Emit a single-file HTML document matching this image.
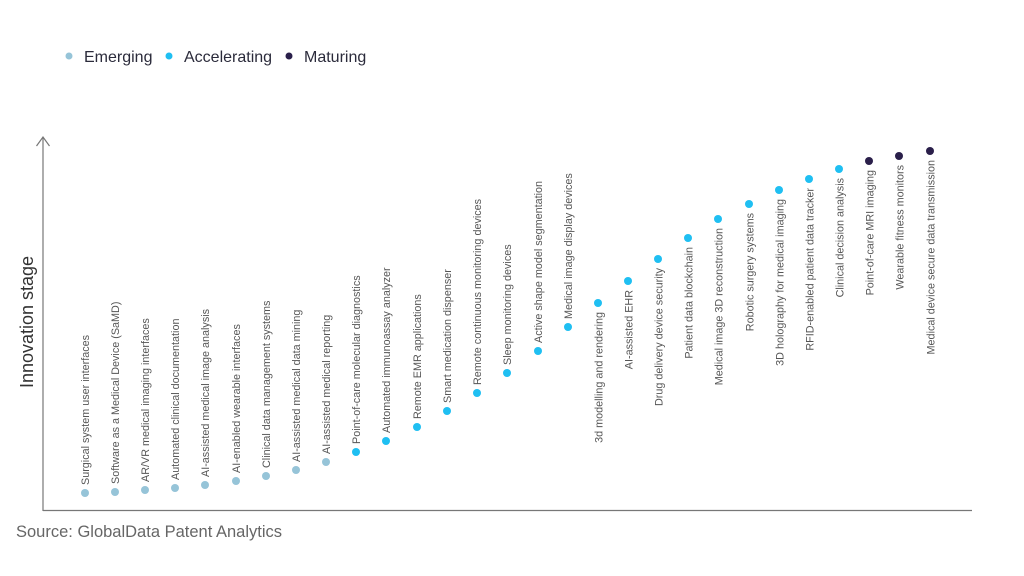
<!DOCTYPE html>
<html><head><meta charset="utf-8"><style>
html,body{margin:0;padding:0;background:#fff;}
svg{display:block;font-family:"Liberation Sans",sans-serif;}
.l{font-size:10.8px;fill:#555;}
</style></head><body>
<svg width="1024" height="576" viewBox="0 0 1024 576">
<!-- legend -->
<circle cx="69" cy="56" r="3.5" fill="#96c4d8"/>
<text x="84" y="62" font-size="16" fill="#2b2b3b">Emerging</text>
<circle cx="169" cy="56" r="3.5" fill="#1fbff2"/>
<text x="184" y="62" font-size="16" fill="#2b2b3b">Accelerating</text>
<circle cx="289" cy="56" r="3.5" fill="#2a1f4a"/>
<text x="304" y="62" font-size="16" fill="#2b2b3b">Maturing</text>
<!-- axes -->
<line x1="43" y1="137" x2="43" y2="511" stroke="#777" stroke-width="1.2"/>
<polyline points="36.5,146 43,137 49.5,146" fill="none" stroke="#777" stroke-width="1.2"/>
<line x1="43" y1="510.5" x2="972" y2="510.5" stroke="#777" stroke-width="1.2"/>
<text transform="translate(33,322) rotate(-90)" text-anchor="middle" font-size="18" fill="#333">Innovation stage</text>
<text x="16" y="537" font-size="16.5" fill="#666">Source: GlobalData Patent Analytics</text>
<!-- points -->
<g fill="#96c4d8">
<circle cx="85" cy="493" r="4"/><circle cx="115" cy="492" r="4"/><circle cx="145" cy="490" r="4"/>
<circle cx="175" cy="488" r="4"/><circle cx="205" cy="485" r="4"/><circle cx="236" cy="481" r="4"/>
<circle cx="266" cy="476" r="4"/><circle cx="296" cy="470" r="4"/><circle cx="326" cy="462" r="4"/>
</g>
<g fill="#1fbff2">
<circle cx="356" cy="452" r="4"/><circle cx="386" cy="441" r="4"/><circle cx="417" cy="427" r="4"/>
<circle cx="447" cy="411" r="4"/><circle cx="477" cy="393" r="4"/><circle cx="507" cy="373" r="4"/>
<circle cx="538" cy="351" r="4"/><circle cx="568" cy="327" r="4"/><circle cx="598" cy="303" r="4"/>
<circle cx="628" cy="281" r="4"/><circle cx="658" cy="259" r="4"/><circle cx="688" cy="238" r="4"/>
<circle cx="718" cy="219" r="4"/><circle cx="749" cy="204" r="4"/><circle cx="779" cy="190" r="4"/>
<circle cx="809" cy="179" r="4"/><circle cx="839" cy="169" r="4"/>
</g>
<g fill="#2a1f4a">
<circle cx="869" cy="161" r="4"/><circle cx="899" cy="156" r="4"/><circle cx="930" cy="151" r="4"/>
</g>
<!-- labels above -->
<g class="l">
<text transform="translate(89,485) rotate(-90)">Surgical system user interfaces</text>
<text transform="translate(119,484) rotate(-90)">Software as a Medical Device (SaMD)</text>
<text transform="translate(149,482) rotate(-90)">AR/VR medical imaging interfaces</text>
<text transform="translate(179,480) rotate(-90)">Automated clinical documentation</text>
<text transform="translate(209,477) rotate(-90)">AI-assisted medical image analysis</text>
<text transform="translate(240,473) rotate(-90)">AI-enabled wearable interfaces</text>
<text transform="translate(270,468) rotate(-90)">Clinical data management systems</text>
<text transform="translate(300,462) rotate(-90)">AI-assisted medical data mining</text>
<text transform="translate(330,454) rotate(-90)">AI-assisted medical reporting</text>
<text transform="translate(360,444) rotate(-90)">Point-of-care molecular diagnostics</text>
<text transform="translate(390,433) rotate(-90)">Automated immunoassay analyzer</text>
<text transform="translate(421,419) rotate(-90)">Remote EMR applications</text>
<text transform="translate(451,403) rotate(-90)">Smart medication dispenser</text>
<text transform="translate(481,385) rotate(-90)">Remote continuous monitoring devices</text>
<text transform="translate(511,365) rotate(-90)">Sleep monitoring devices</text>
<text transform="translate(542,343) rotate(-90)">Active shape model segmentation</text>
<text transform="translate(572,319) rotate(-90)">Medical image display devices</text>
</g>
<!-- labels below -->
<g class="l" text-anchor="end">
<text transform="translate(602.5,312) rotate(-90)">3d modelling and rendering</text>
<text transform="translate(632.5,290) rotate(-90)">AI-assisted EHR</text>
<text transform="translate(662.5,268) rotate(-90)">Drug delivery device security</text>
<text transform="translate(692.5,247) rotate(-90)">Patient data blockchain</text>
<text transform="translate(722.5,228) rotate(-90)">Medical image 3D reconstruction</text>
<text transform="translate(753.5,213) rotate(-90)">Robotic surgery systems</text>
<text transform="translate(783.5,199) rotate(-90)">3D holography for medical imaging</text>
<text transform="translate(813.5,188) rotate(-90)">RFID-enabled patient data tracker</text>
<text transform="translate(843.5,178) rotate(-90)">Clinical decision analysis</text>
<text transform="translate(873.5,170) rotate(-90)">Point-of-care MRI imaging</text>
<text transform="translate(903.5,165) rotate(-90)">Wearable fitness monitors</text>
<text transform="translate(934.5,160) rotate(-90)">Medical device secure data transmission</text>
</g>
</svg>
</body></html>
